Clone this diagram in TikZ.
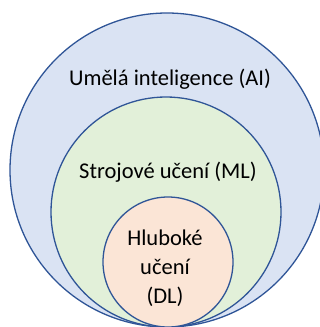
\documentclass[tikz,border=0pt]{standalone}
\usepackage{fontspec}
\setmainfont{Carlito}
\definecolor{aiblue}{HTML}{DAE3F3}
\definecolor{mlgreen}{HTML}{E2F0D9}
\definecolor{dlrose}{HTML}{FBE5D6}
\definecolor{edgeblue}{HTML}{2F5597}
\begin{document}
\begin{tikzpicture}
[x=1pt, y=-1pt,
ring/.style={circle, draw=edgeblue, line width=1.3pt, inner sep=0pt},
txt/.style={align=center, font=\fontsize{22.5}{29}\selectfont, inner sep=0pt},
]
\useasboundingbox (0,0) rectangle (320,327);

\node[ring, fill=aiblue, minimum size=314pt] (ai) at (167,170) {};
\node[ring, fill=mlgreen, minimum size=230pt] (ml) at (166,212) {};
\node[ring, fill=dlrose, minimum size=130pt] (dl) at (168,262) {};

\node[txt] (aitext) at (170,79) {Umělá inteligence (AI)};
\node[txt] (mltext) at (168,172) {Strojové učení (ML)};
\node[txt] (dltext) at (165,268) {Hluboké\\učení\\(DL)};
\end{tikzpicture}
\end{document}
